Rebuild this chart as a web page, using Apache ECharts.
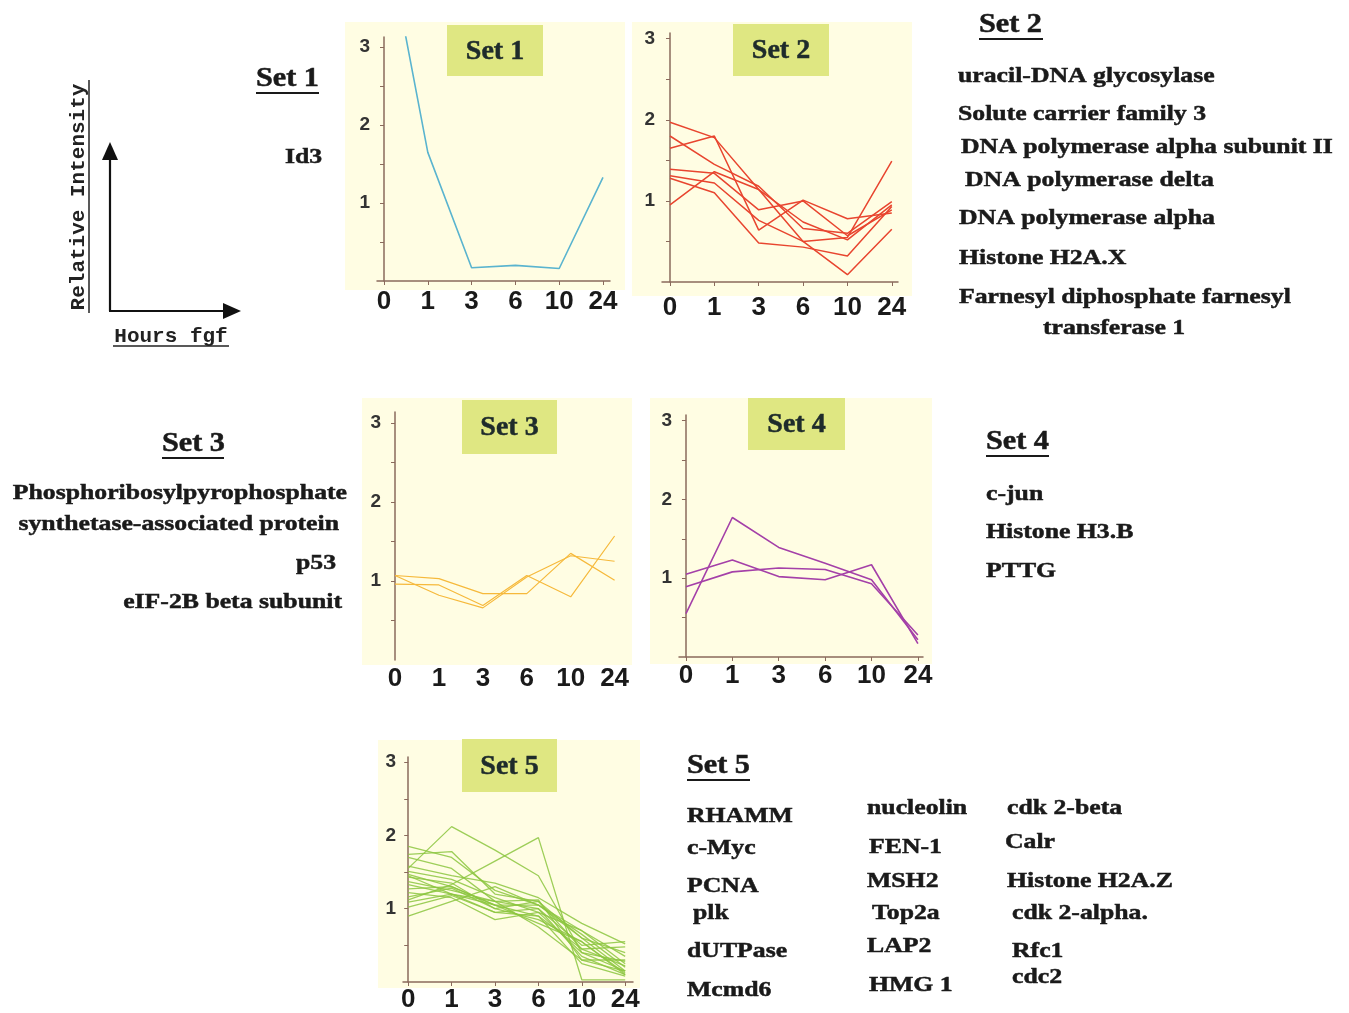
<!DOCTYPE html>
<html>
<head>
<meta charset="utf-8">
<script src="https://cdn.jsdelivr.net/npm/echarts@6/dist/echarts.min.js"></script>
<style>
html,body{margin:0;padding:0;background:#fff;}
#c{width:1349px;height:1013px;}
</style>
</head>
<body>
<div id="c"></div>
<script>
// ---------- data ----------
const hours = ['0', '1', '3', '6', '10', '24'];
const yTickLabels = [1, 2, 3];

const set1 = [
  [4.6, 1.65, 0.17, 0.2, 0.16, 1.33]
];
const set2 = [
  [1.97, 1.78, 1.14, 0.74, 0.52, 0.95],
  [1.65, 1.80, 0.64, 1.01, 0.78, 0.85],
  [1.80, 1.45, 1.18, 0.66, 0.60, 0.99],
  [1.39, 1.34, 0.89, 1.00, 0.57, 0.89],
  [1.31, 1.22, 0.76, 0.50, 0.09, 0.65],
  [1.28, 1.10, 0.48, 0.43, 0.32, 0.93],
  [0.95, 1.36, 1.14, 0.50, 0.55, 1.49]
];
const set3 = [
  [1.07, 1.03, 0.84, 0.84, 1.35, 1.01],
  [0.96, 0.95, 0.69, 1.07, 0.80, 1.57],
  [1.07, 0.82, 0.66, 1.05, 1.32, 1.25]
];
const set4 = [
  [0.55, 1.77, 1.39, 1.19, 0.98, 0.22],
  [1.05, 1.23, 1.02, 0.98, 1.17, 0.17],
  [0.89, 1.08, 1.13, 1.11, 0.93, 0.28]
];
const set5 = [
  [1.55, 2.12, 1.80, 1.45, 0.40, 0.28],
  [1.12, 1.33, 1.65, 1.97, 0.03, 0.03],
  [1.85, 1.70, 1.25, 1.05, 0.60, 0.15],
  [1.74, 1.78, 1.20, 1.10, 0.45, 0.48],
  [1.70, 1.55, 1.10, 1.00, 0.35, 0.10],
  [1.58, 1.45, 1.35, 1.15, 0.80, 0.52],
  [1.51, 1.40, 1.15, 0.95, 0.70, 0.25],
  [1.47, 1.30, 1.05, 0.90, 0.25, 0.08],
  [1.43, 1.35, 1.00, 1.10, 0.60, 0.40],
  [1.37, 1.25, 1.10, 0.75, 0.30, 0.15],
  [1.33, 1.20, 0.95, 1.00, 0.50, 0.55],
  [1.27, 1.30, 1.05, 1.05, 0.65, 0.20],
  [1.22, 1.15, 0.85, 0.95, 0.40, 0.15],
  [1.16, 1.28, 1.00, 0.85, 0.55, 0.10],
  [1.09, 1.20, 1.10, 1.12, 0.30, 0.30],
  [1.02, 1.18, 0.95, 0.90, 0.45, 0.22],
  [0.90, 1.10, 1.30, 1.05, 0.70, 0.35],
  [1.45, 1.20, 1.05, 0.80, 0.55, 0.12]
];

const setNames = ['Set 1', 'Set 2', 'Set 3', 'Set 4', 'Set 5'];
const genes1 = ['Id3'];
const genes2 = ['uracil-DNA glycosylase', 'Solute carrier family 3', 'DNA polymerase alpha subunit II',
  'DNA polymerase delta', 'DNA polymerase alpha', 'Histone H2A.X', 'Farnesyl diphosphate farnesyl', 'transferase 1'];
const genes3 = ['Phosphoribosylpyrophosphate', 'synthetase-associated protein', 'p53', 'eIF-2B beta subunit'];
const genes4 = ['c-jun', 'Histone H3.B', 'PTTG'];
const genes5a = ['RHAMM', 'c-Myc', 'PCNA', 'plk', 'dUTPase', 'Mcmd6'];
const genes5b = ['nucleolin', 'FEN-1', 'MSH2', 'Top2a', 'LAP2', 'HMG 1'];
const genes5c = ['cdk 2-beta', 'Calr', 'Histone H2A.Z', 'cdk 2-alpha.', 'Rfc1', 'cdc2'];
const axisTitleY = 'Relative Intensity';
const axisTitleX = 'Hours fgf';

// ---------- layout / styles ----------
const sets = [set1, set2, set3, set4, set5];
const panels = [
  {left: 377, top: 37, width: 233, height: 244, xmin: -0.16, xmax: 5.16, ymax: 3.13, color: '#5AB4CF', lw: 1.6, xline: true, xmargin: 8,
   bg: [345, 22, 280, 268], box: [447, 25, 96, 51]},
  {left: 662, top: 33, width: 236, height: 249, xmin: -0.18, xmax: 5.14, ymax: 3.07, color: '#E8452F', lw: 1.5, xline: true, xmargin: 13,
   bg: [632, 22, 280, 274], box: [733, 24, 96, 52]},
  {left: 388, top: 412, width: 231, height: 248, xmin: -0.16, xmax: 5.1, ymax: 3.14, color: '#F6B93B', lw: 1.2, xline: false, xmargin: 6,
   bg: [362, 398, 270, 267], box: [462, 400, 95, 54]},
  {left: 679, top: 415, width: 244, height: 242, xmin: -0.15, xmax: 5.11, ymax: 3.07, color: '#A440A8', lw: 1.6, xline: true, xmargin: 6,
   bg: [650, 398, 282, 266], box: [748, 398, 97, 52]},
  {left: 403, top: 757, width: 230, height: 226, xmin: -0.12, xmax: 5.18, ymax: 3.07, color: '#8CC63F', lw: 1.3, xline: true, xmargin: 5,
   bg: [378, 740, 262, 248], box: [462, 739, 95, 53]}
];
const axisColor = '#8A6A5C';
const serif = '"Liberation Serif", "Times New Roman", serif';
const sans = '"Liberation Sans", Arial, sans-serif';
const mono = '"Liberation Mono", "Courier New", monospace';
const textColor = '#1a1a1a';

const grids = [], xAxes = [], yAxes = [], series = [], graphics = [];

panels.forEach((p, i) => {
  grids.push({left: p.left, top: p.top, width: p.width, height: p.height, containLabel: false});
  xAxes.push({
    type: 'value', gridIndex: i, min: p.xmin, max: p.xmax,
    axisLine: {show: p.xline, onZero: false, lineStyle: {color: axisColor, width: 1.5}},
    axisTick: {show: p.xline, customValues: [0, 1, 2, 3, 4, 5], length: 4, lineStyle: {color: axisColor}},
    axisLabel: {customValues: [0, 1, 2, 3, 4, 5], formatter: v => hours[Math.round(v)],
      fontSize: 26, fontWeight: 'bold', fontFamily: sans, color: textColor, margin: p.xmargin},
    splitLine: {show: false}
  });
  yAxes.push({
    type: 'value', gridIndex: i, min: 0, max: p.ymax,
    axisLine: {show: true, lineStyle: {color: axisColor, width: 1.5}},
    axisTick: {show: true, customValues: [0.5, 1, 1.5, 2, 2.5, 3], length: 4, lineStyle: {color: axisColor}},
    axisLabel: {customValues: yTickLabels, formatter: v => String(Math.round(v)),
      fontSize: 19, fontWeight: 'bold', fontFamily: sans, color: '#333', margin: 7},
    splitLine: {show: false}
  });
  sets[i].forEach((vals, k) => {
    series.push({
      type: 'line', xAxisIndex: i, yAxisIndex: i, symbol: 'none', clip: true,
      data: vals.map((v, j) => [j, v]),
      lineStyle: {color: p.color, width: p.lw, opacity: i === 4 ? 0.85 : 1},
      itemStyle: {color: p.color}, silent: true, animation: false
    });
  });
  // panel background
  graphics.push({type: 'rect', z: -10, shape: {x: p.bg[0], y: p.bg[1], width: p.bg[2], height: p.bg[3]},
    style: {fill: '#FFFDE3'}});
  // title box
  graphics.push({type: 'rect', z: 50, shape: {x: p.box[0], y: p.box[1], width: p.box[2], height: p.box[3]},
    style: {fill: '#DFE782'}});
  graphics.push({type: 'text', z: 51, x: p.box[0] + p.box[2] / 2, y: p.box[1] + p.box[3] / 2 + 1,
    style: {text: setNames[i], fontSize: 28, fontWeight: 'bold', fontFamily: serif, fill: '#1e2b2b',
      stroke: '#1e2b2b', lineWidth: 0.5, textAlign: 'center', textVerticalAlign: 'middle'}});
});

function txt(s, x, y, opts) {
  opts = opts || {};
  graphics.push({type: 'text', z: 20, x: x, y: y, scaleX: opts.sx || 1.17,
    style: {text: s, fontSize: opts.size || 22, fontWeight: 'bold', fontFamily: opts.font || serif,
      fill: textColor, stroke: textColor, lineWidth: 0.5,
      textAlign: opts.align || 'left', textVerticalAlign: 'middle'}});
}
function heading(s, x, y, w) {
  txt(s, x, y, {size: 27, sx: 1.12});
  graphics.push({type: 'line', z: 20, shape: {x1: x, y1: y + 14, x2: x + w, y2: y + 14},
    style: {stroke: textColor, lineWidth: 2}});
}

// Set 1 text
heading(setNames[0], 256, 79, 63);
txt(genes1[0], 285, 157);
// Set 2 text
heading(setNames[1], 979, 25, 64);
const g2pos = [[958, 76], [958, 114], [961, 147], [965, 180], [959, 218], [959, 258], [959, 297], [1043, 328]];
genes2.forEach((g, k) => txt(g, g2pos[k][0], g2pos[k][1]));
// Set 3 text (right aligned)
heading(setNames[2], 162, 444, 62);
const g3pos = [[347, 493], [339, 524], [336, 563], [342, 602]];
genes3.forEach((g, k) => txt(g, g3pos[k][0], g3pos[k][1], {align: 'right'}));
// Set 4 text
heading(setNames[3], 986, 442, 63);
[[986, 494], [986, 532], [986, 571]].forEach((pp, k) => txt(genes4[k], pp[0], pp[1]));
// Set 5 text
heading(setNames[4], 687, 766, 63);
[[687, 816], [687, 848], [687, 886], [693, 913], [687, 951], [687, 990]].forEach((pp, k) => txt(genes5a[k], pp[0], pp[1]));
[[867, 808], [869, 847], [867, 881], [872, 913], [867, 946], [869, 985]].forEach((pp, k) => txt(genes5b[k], pp[0], pp[1]));
[[1007, 808], [1005, 842], [1007, 881], [1012, 913], [1012, 951], [1012, 977]].forEach((pp, k) => txt(genes5c[k], pp[0], pp[1]));

// generic axis legend (arrows)
graphics.push({type: 'line', z: 20, shape: {x1: 110, y1: 311, x2: 110, y2: 156}, style: {stroke: '#111', lineWidth: 2.2}});
graphics.push({type: 'polygon', z: 20, shape: {points: [[110, 142], [102, 160], [118, 160]]}, style: {fill: '#111'}});
graphics.push({type: 'line', z: 20, shape: {x1: 109, y1: 311, x2: 226, y2: 311}, style: {stroke: '#111', lineWidth: 2.2}});
graphics.push({type: 'polygon', z: 20, shape: {points: [[241, 311], [223, 303], [223, 319]]}, style: {fill: '#111'}});
graphics.push({type: 'text', z: 20, x: 79, y: 197, rotation: Math.PI / 2,
  style: {text: axisTitleY, fontSize: 21, fontWeight: 'bold', fontFamily: mono, fill: '#222',
    textAlign: 'center', textVerticalAlign: 'middle'}});
graphics.push({type: 'line', z: 20, shape: {x1: 89, y1: 80, x2: 89, y2: 313}, style: {stroke: '#222', lineWidth: 1.5}});
graphics.push({type: 'text', z: 20, x: 171, y: 337,
  style: {text: axisTitleX, fontSize: 21, fontWeight: 'bold', fontFamily: mono, fill: '#222',
    textAlign: 'center', textVerticalAlign: 'middle'}});
graphics.push({type: 'line', z: 20, shape: {x1: 113, y1: 346, x2: 229, y2: 346}, style: {stroke: '#222', lineWidth: 1.5}});

const chart = echarts.init(document.getElementById('c'), null, {renderer: 'canvas'});
chart.setOption({
  backgroundColor: '#ffffff',
  animation: false,
  grid: grids,
  xAxis: xAxes,
  yAxis: yAxes,
  series: series,
  graphic: {elements: graphics}
});
</script>
</body>
</html>
